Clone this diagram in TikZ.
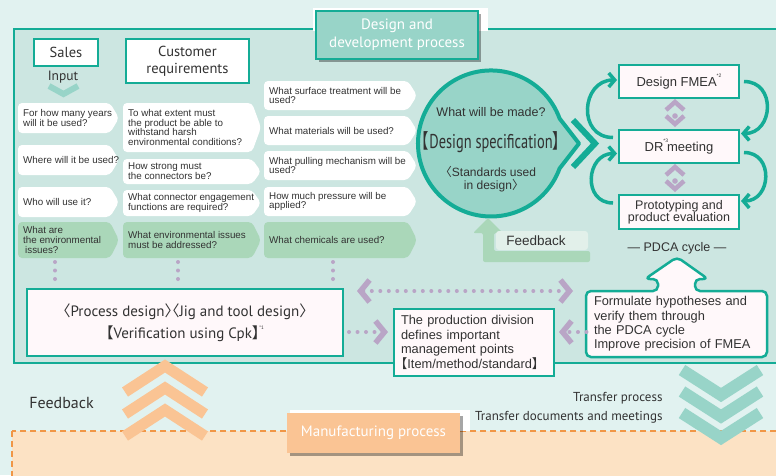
\documentclass[tikz,border=0pt]{standalone}
\usepackage{fontspec}
\setmainfont{Liberation Sans}
\newfontfamily\headfont{PT Sans}
\newfontfamily\cjk[RawFeature=+halt]{Noto Sans CJK JP}
\newfontfamily\condfont[FakeStretch=0.72]{PT Sans}
\newfontfamily\condcjk[FakeStretch=0.72,RawFeature=+halt]{Noto Sans CJK JP}
\usetikzlibrary{arrows.meta,calc,shadows}

\definecolor{bgout}{RGB}{225,242,240}
\definecolor{bgin}{RGB}{204,230,225}
\definecolor{tealdk}{RGB}{20,172,150}
\definecolor{teall}{RGB}{152,212,200}
\definecolor{leaf}{RGB}{170,215,185}
\definecolor{mauve}{RGB}{185,165,198}
\definecolor{paper}{RGB}{255,248,250}
\definecolor{peach}{RGB}{250,196,148}
\definecolor{peachl}{RGB}{252,226,196}
\definecolor{rust}{RGB}{240,150,70}
\definecolor{mint}{RGB}{226,240,234}
\definecolor{ink}{RGB}{50,50,50}

\newcommand{\starnote}[1]{\raisebox{1.2ex}{\fontsize{5}{5}\selectfont *#1}}
\newcommand{\askbox}[7]{%
	\fill[#2,rounded corners=4pt] (#3,#4) -- (#5-9,#4) -- (#5,{(#4+#6)/2}) -- (#5-9,#6) -- (#3,#6) -- cycle;
	\node[asktext] (#1) at (#3+5,{(#4+#6)/2}) {#7};}

\begin{document}
\begin{tikzpicture}[x=1pt,y=-1pt,
	asktext/.style={anchor=west,align=left,inner sep=0pt,text=ink,font=\fontsize{9.8}{9.9}\selectfont},
	headbox/.style={draw=tealdk,line width=2pt,fill=white,text=ink,align=center,font=\headfont\fontsize{14.5}{17}\selectfont},
	pdca/.style={draw=tealdk,line width=2pt,fill=paper,text=ink,align=center,minimum width=120,minimum height=33,font=\fontsize{13}{12.5}\selectfont},
	cyc/.style={tealdk,line width=3.5pt,-{Straight Barb[sharp,length=6pt,width=14pt,line width=3.5pt]}},
	dots/.style={mauve,line width=4pt,line cap=round,dash pattern=on 0pt off 8.5pt},
	chev/.tip={Straight Barb[sharp,length=9pt,width=22pt,line width=5.5pt]},
	shade/.style={drop shadow={shadow xshift=3pt,shadow yshift=-3pt,fill=black,opacity=.35}},
	trade/.pic={\draw[mauve,line width=4.5pt] (-9,-4) -- (0,-12) -- (9,-4) (-9,2) -- (0,10) -- (9,2); \fill[mauve] (0,2) circle (2.8);}]
	\clip (0,0) rectangle (776,475);
	\fill[bgout] (0,0) rectangle (776,475);
	\draw[rust,line width=1.5pt,dash pattern=on 6pt off 4pt,fill=peachl] (12,431) rectangle (790,490);
	\fill[white] (290,410) rectangle (470,431);
	\node[fill=peach,text=white,minimum width=173,minimum height=40,font=\headfont\fontsize{15}{18}\selectfont,shade] (make) at (373.5,433) {Manufacturing process};
	\draw[tealdk,line width=2pt,fill=bgin] (14,29) rectangle (790,363);
	\fill[white] (313,8) rectangle (488,31);
	\node[draw=tealdk,line width=2pt,fill=teall,text=white,minimum width=162,minimum height=48,align=center,font=\headfont\fontsize{15}{18}\selectfont,shade] (title) at (397,35) {Design and\\development process};
	
	\node[headbox,minimum width=64,minimum height=27] (sales) at (66,52.5) {Sales};
	\node[text=ink,font=\headfont\fontsize{13.5}{14}\selectfont] (input) at (63,77) {Input};
	\draw[teall,line width=6pt] (49,86) -- (63.5,94) -- (78,86);
	\node[headbox,minimum width=123,minimum height=44] (cust) at (187.5,61) {Customer\\requirements};
	
	\askbox{ca}{white}{18}{103}{119}{133}{For how many years\\will it be used?}
	\askbox{cb}{white}{18}{145}{119}{175}{Where will it be used?}
	\askbox{cc}{white}{18}{187}{119}{217}{Who will use it?}
	\askbox{cd}{leaf}{18}{222}{119}{258}{What are\\the environmental\\\hspace{2pt}issues?}
	\askbox{da}{white}{123}{103}{261}{152}{To what extent must\\the product be able to\\withstand harsh\\environmental conditions?}
	\askbox{db}{white}{123}{159}{261}{184}{How strong must\\the connectors be?}
	\askbox{dc}{white}{123}{190}{261}{216}{What connector engagement\\functions are required?}
	\askbox{dd}{leaf}{123}{222}{261}{258}{What environmental issues\\must be addressed?}
	\askbox{ea}{white}{264}{81}{417}{110}{What surface treatment will be\\used?}
	\askbox{eb}{white}{264}{116}{417}{145}{What materials will be used?}
	\askbox{ec}{white}{264}{151}{417}{180}{What pulling mechanism will be\\used?}
	\askbox{ed}{white}{264}{187}{417}{216}{How much pressure will be\\applied?}
	\askbox{ee}{leaf}{264}{222}{417}{258}{What chemicals are used?}
	\foreach \x in {55,178,333} \draw[dots] (\x,262) -- (\x,280);
	
	\draw[tealdk,line width=4pt,line join=round,fill=teall] (579,143.5) -- (559.6,118.5) arc[start angle=-20,end angle=-340,radius=73] -- cycle;
	\node[circle,minimum size=146,inner sep=0pt] (spec) at (491,143.5) {};
	\node[text=ink,font=\fontsize{12.5}{13}\selectfont] (made) at ($(spec)+(0,-31.5)$) {What will be made?};
	\node[text=ink,font=\fontsize{20}{22}\selectfont] (specname) at ($(spec)+(0,-1.5)$) {{\condcjk 【}{\condfont Design specification}{\condcjk 】}};
	\node[text=ink,align=center,font=\fontsize{12}{13.5}\selectfont] (std) at ($(spec)+(0,35.5)$) {{\cjk 〈}Standards used\\in design{\cjk 〉}};
	\draw[tealdk,line width=6pt] (573,120) -- (595,143.5) -- (573,167);
	
	\fill[leaf,rounded corners=2pt] (488,218) -- (503,233) -- (494,233) -- (494,251) -- (590,251) -- (590,262) -- (483,262) -- (483,233) -- (473,233) -- cycle;
	\fill[mint,rounded corners=3pt] (496,231) rectangle (588,250);
	\node[text=ink,font=\fontsize{13.5}{14}\selectfont] (fb) at (536,241) {Feedback};
	
	\node[pdca] (fmea) at (679,81.5) {Design FMEA\starnote{2}};
	\node[pdca] (dr) at (679,146.5) {DR\rlap{\starnote{3}} meeting};
	\node[pdca,font=\fontsize{12.5}{12.3}\selectfont,minimum height=34] (proto) at (679,212) {Prototyping and\\product evaluation};
	\draw[cyc] ($(dr.west)+(-5,-9)$) to[out=180,in=180,looseness=1.6] ($(fmea.west)+(-1,-1.5)$);
	\draw[cyc] ($(proto.west)+(-5,-9)$) to[out=180,in=180,looseness=1.6] ($(dr.west)+(-1,7)$);
	\draw[cyc] ($(fmea.east)+(4,0)$) to[out=0,in=0,looseness=1.6] ($(dr.east)+(1,-13)$);
	\draw[cyc] ($(dr.east)+(4,6)$) to[out=0,in=0,looseness=1.6] ($(proto.east)+(1,-11)$);
	\pic at (675,114) {trade};
	\pic at (675,179) {trade};
	\node[text=ink,font=\fontsize{12.5}{13}\selectfont] (pdcaname) at (677,248) {— PDCA cycle —};
	
	\node[draw=tealdk,line width=2pt,fill=paper,minimum width=316,minimum height=67,text=ink,align=center,font=\headfont\fontsize{15}{22}\selectfont] (process) at (185,322.5) {{\cjk 〈}Process design{\cjk 〉〈}Jig and tool design{\cjk 〉}\\{\cjk 【}Verification using Cpk{\cjk 】}\starnote{1}};
	\node[draw=tealdk,line width=2pt,fill=paper,anchor=north west,minimum width=160,minimum height=67,text width=146,inner xsep=7pt,align=left,text=ink,font=\fontsize{12.8}{14.5}\selectfont] (prod) at (393,308) {The production division\\defines important\\management points\\{\cjk 【}Item/method/standard{\cjk 】}};
	\draw[tealdk,line width=2.5pt,fill=paper,rounded corners=5pt] (586,291) -- (658,291) -- (658,279) -- (645,279) -- (677,257) -- (708,279) -- (695,279) -- (695,291) -- (767,291) -- (767,357) -- (586,357) -- cycle;
	\node[text=ink,text width=165,align=left,font=\fontsize{12.8}{14.4}\selectfont] (plan) at (676.5,324) {Formulate hypotheses and\\verify them through\\the PDCA cycle\\Improve precision of FMEA};
	
	\coordinate (uprowL) at (357,291);
	\coordinate (uprowR) at (573,291);
	\coordinate (lowrow) at (0,332);
	\draw[dots,chev-chev] (uprowL) -- (uprowR);
	\draw[dots,-chev,shorten <=5pt,shorten >=5pt] (process.east |- lowrow) -- (prod.west |- lowrow);
	\draw[dots,-chev,shorten <=4pt,shorten >=4pt] (plan.west |- lowrow) -- (prod.east |- lowrow);
	
	\foreach \d in {0,22,44} \draw[peach,line width=11pt] (125,392+\d) -- (165,366+\d) -- (205,392+\d);
	\foreach \d in {0,21.5,43} \draw[teall,line width=12pt] (682,370+\d) -- (721,395+\d) -- (760,370+\d);
	\node[text=ink,font=\headfont\fontsize{16}{18}\selectfont] (back) at (61.5,403) {Feedback};
	\node[anchor=east,text=ink,font=\headfont\fontsize{13}{15}\selectfont] (move) at (666,398) {Transfer process};
	\node[anchor=east,text=ink,font=\headfont\fontsize{13}{15}\selectfont] (docs) at (666,417) {Transfer documents and meetings};
\end{tikzpicture}
\end{document}
